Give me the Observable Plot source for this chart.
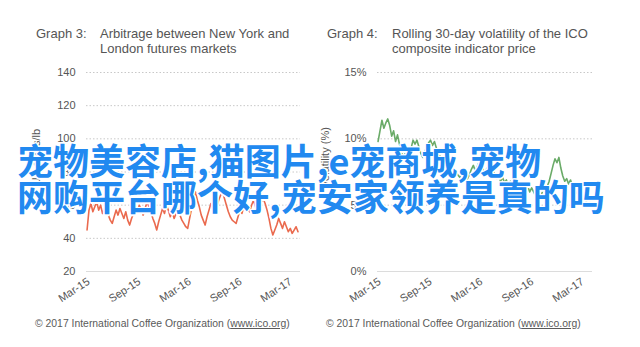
<!DOCTYPE html>
<html>
<head>
<meta charset="utf-8">
<script src="https://cdn.jsdelivr.net/npm/d3@7"></script>
<script src="https://cdn.jsdelivr.net/npm/@observablehq/plot@0.6"></script>
<style>
  html, body { margin: 0; padding: 0; background: #fff; }
  #page { position: relative; width: 640px; height: 347px; overflow: hidden; background: #fff;
          font-family: "Liberation Sans", Arial, sans-serif; color: #555; }
  .panel { position: absolute; top: 60px; }
  .title { position: absolute; font-size: 13px; line-height: 15px; color: #555; white-space: nowrap; }
  .caption { position: absolute; top: 318px; font-size: 10.4px; line-height: 12px; color: #5a5a5a; white-space: nowrap; }
  .caption u { text-decoration: underline; }
  .overlay { position: absolute; left: 17px; top: 141px; white-space: nowrap;
             font-family: "Noto Sans CJK SC", sans-serif; font-weight: 700; font-size: 36px; line-height: 36px;
             color: #2189f0;
             text-shadow: 0 0 2px #fff, 1.5px 0 0 #fff, -1.5px 0 0 #fff, 0 1.5px 0 #fff, 0 -1.5px 0 #fff,
                          1px 1px 0 #fff, -1px -1px 0 #fff, 1px -1px 0 #fff, -1px 1px 0 #fff; }
</style>
</head>
<body>
<div id="page">
  <div class="title" style="left:36px; top:26px;">Graph 3:</div>
  <div class="title" style="left:100px; top:26px;">Arbitrage between New York and<br>London futures markets</div>
  <div class="title" style="left:327px; top:26px;">Graph 4:</div>
  <div class="title" style="left:392px; top:26px;">Rolling 30-day volatility of the ICO<br>composite indicator price</div>

  <div class="panel" id="left" style="left:0px;"></div>
  <div class="panel" id="right" style="left:320px;"></div>

  <div class="caption" style="left:35px;">© 2017 International Coffee Organization (<u>www.ico.org</u>)</div>
  <div class="caption" style="left:326px;">© 2017 International Coffee Organization (<u>www.ico.org</u>)</div>

  <div class="overlay">宠物美容店,猫图片,e宠商城,宠物<br>网购平台哪个好,宠安家领养是真的吗</div>
</div>
<script>
// Weekly observations, first week starting 23 Feb 2015
const firstWeek = "2015-02-23";

// NY – London arbitrage, US cents/lb
const arbitrage = [
  45, 57, 61, 56, 59, 62, 57, 60, 55, 58, 61, 54, 51, 49, 53, 57, 54, 58, 55, 52,
  56, 51, 48, 52, 55, 59, 56, 60, 57, 54, 58, 62, 59, 56, 52, 49, 45, 50, 54, 58,
  55, 60, 57, 53, 56, 52, 55, 58, 54, 51, 49, 47, 46, 52, 58, 64, 68, 63, 59, 54,
  51, 48, 53, 57, 61, 58, 55, 59, 63, 66, 68, 64, 60, 56, 53, 51, 50, 49, 53, 57,
  55, 59, 62, 58, 56, 60, 63, 59, 56, 60, 62, 64, 61, 57, 52, 46, 42, 45, 48, 52,
  49, 46, 50, 47, 44, 46, 43, 45, 47, 44
];

// Rolling 30-day volatility of the ICO composite indicator, %
const volatility = [
  9.8, 10.6, 11.4, 10.8, 11.2, 11.5, 11.0, 10.2, 10.6, 9.8, 10.3, 9.6, 9.0, 8.6, 8.9, 8.4, 8.8, 9.3, 9.9, 9.6,
  9.9, 9.4, 8.9, 8.6, 9.0, 9.4, 9.7, 9.9, 9.5, 9.8, 9.3, 9.0, 8.6, 8.2, 7.9, 7.6, 7.8, 7.4, 7.6, 7.2,
  7.5, 7.3, 7.1, 7.4, 7.2, 7.4, 7.0, 7.3, 7.7, 8.0, 7.6, 7.9, 8.3, 8.0, 7.7, 7.4, 7.8, 7.5, 7.2, 7.6,
  7.3, 7.0, 7.2, 6.8, 7.1, 6.7, 6.9, 6.5, 6.8, 6.6, 6.2, 6.5, 6.0, 5.7, 6.1, 5.8, 6.2, 6.4, 6.0, 6.3,
  6.0, 5.7, 5.9, 5.5, 5.8, 6.2, 5.9, 6.4, 6.8, 7.4, 8.0, 8.5, 8.2, 8.6, 7.8, 7.2, 6.8, 7.0, 6.6, 6.9,
  6.4, 6.1, 5.9, 6.2, 5.8, 5.5, 5.7, 5.3, 5.0, 5.2
];

// Axis ticks and titles
const xTicks = ["2015-03-01", "2015-09-01", "2016-03-01", "2016-09-01", "2017-03-01"];
const xDomain = ["2015-02-21", "2017-04-05"];
const leftTicks = [20, 40, 60, 80, 100, 120, 140];
const rightTicks = [0, 5, 10, 15];
const leftLabel = "US cents/lb";
const rightLabel = "Volatility (%)";

const parse = d3.utcParse("%Y-%m-%d");
const start = parse(firstWeek);
const weekDate = (i) => d3.utcWeek.offset(start, i);

const arbRows = arbitrage.map((v, i) => ({date: weekDate(i), value: v}));
const volRows = volatility.map((v, i) => ({date: weekDate(i), value: v}));

const baseStyle = {
  fontFamily: "'Liberation Sans', Arial, sans-serif",
  fontSize: "11px",
  color: "#555",
  background: "transparent",
  overflow: "visible"
};

function panel({rows, ticks, domain, label, labelAt, color, marginLeft, marginRight, labelDx, tickFormat}) {
  return Plot.plot({
    width: 320,
    height: 260,
    marginTop: 12,
    marginBottom: 49,
    marginLeft,
    marginRight,
    style: baseStyle,
    x: {
      type: "utc",
      domain: xDomain.map(parse),
      ticks: xTicks.map(parse),
      tickFormat: d3.utcFormat("%b-%y"),
      tickRotate: -33,
      tickSize: 0,
      tickPadding: 9,
      label: null,
      fontSize: 11.5
    },
    y: {
      domain,
      ticks,
      tickSize: 0,
      tickPadding: 11,
      tickFormat,
      label: null
    },
    marks: [
      Plot.ruleY(ticks.slice(1), {stroke: "#c8c8c8", strokeWidth: 1, strokeDasharray: "1.5,2"}),
      Plot.ruleY(ticks.slice(0, 1), {stroke: "#dcdcdc", strokeWidth: 1}),
      Plot.lineY(rows, {x: "date", y: "value", stroke: color, strokeWidth: 1.6}),
      // rotated y-axis title, centred on its anchor value
      Plot.text([label], {frameAnchor: "left", y: labelAt, dx: labelDx, rotate: -90,
                          textAnchor: "middle", text: (d) => d, fill: "#555", fontSize: 11})
    ]
  });
}

document.getElementById("left").append(panel({
  rows: arbRows,
  ticks: leftTicks,
  domain: [20, 140],
  label: leftLabel,
  labelAt: [89],
  color: "#ea6a4e",
  marginLeft: 86,
  marginRight: 20,
  labelDx: -50
}));

document.getElementById("right").append(panel({
  rows: volRows,
  ticks: rightTicks,
  domain: [0, 15],
  label: rightLabel,
  labelAt: [8.6],
  color: "#6aab68",
  marginLeft: 57,
  marginRight: 48,
  labelDx: -52,
  tickFormat: (d) => d + "%"
}));
</script>
</body>
</html>
